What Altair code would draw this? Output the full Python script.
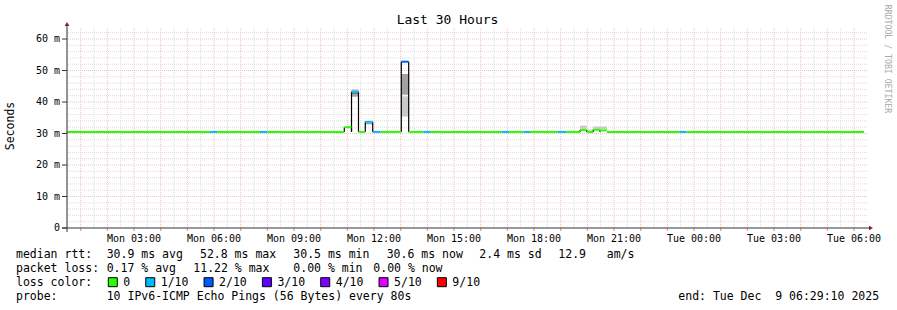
import altair as alt
import pandas as pd

# ---------------- data ----------------
# x = hours counted from Mon 00:00; window Mon 00:29:10 -> Tue 06:29:10 (30 h)
T0 = 29 / 60 + 10 / 3600
T1 = T0 + 30

# median rtt segments (hour start / end, median ms, loss class)
seg_start = [0.486, 5.849, 6.122, 7.724, 7.997, 10.885, 11.155, 11.417, 11.672, 11.950,
             12.250, 13.022, 13.300, 13.847, 14.099, 16.787, 17.061, 17.597, 17.849, 18.887,
             19.199, 19.724, 19.975, 20.222, 20.474, 20.736, 23.447, 23.725]
seg_end = [5.849, 6.122, 7.724, 7.997, 10.885, 11.155, 11.417, 11.672, 11.950, 12.250,
           13.022, 13.300, 13.847, 14.099, 16.787, 17.061, 17.597, 17.849, 18.887, 19.199,
           19.724, 19.975, 20.222, 20.474, 20.736, 23.447, 23.725, 30.374]
seg_median = [30.5, 30.5, 30.5, 30.5, 30.5, 32.0, 43.3, 30.5, 33.7, 30.5,
              30.5, 52.8, 30.5, 30.5, 30.5, 30.5, 30.5, 30.5, 30.5, 30.5,
              30.5, 31.1, 30.5, 31.2, 31.0, 30.5, 30.5, 30.5]
seg_loss = ["0", "1/10", "0", "1/10", "0", "0", "1/10", "0", "1/10", "1/10",
            "0", "2/10", "0", "1/10", "0", "1/10", "0", "1/10", "0", "1/10",
            "0", "0", "0", "0", "0", "0", "1/10", "0"]
BASELINE = 30.5

# smoke bands
smoke_start = [11.155, 11.155, 11.155, 11.672, 13.022, 13.022, 19.724, 19.975, 20.222, 20.474]
smoke_end = [11.417, 11.417, 11.417, 11.950, 13.300, 13.300, 19.975, 20.222, 20.474, 20.736]
smoke_lo = [43.0, 42.5, 41.7, 32.9, 42.3, 35.4, 31.4, 30.9, 31.5, 31.4]
smoke_hi = [44.1, 43.0, 42.5, 33.4, 48.9, 41.8, 32.5, 31.3, 32.2, 32.2]
smoke_level = ["light", "dark", "mid", "mid", "mid", "light", "light", "light", "light", "light"]

loss_labels = ["0", "1/10", "2/10", "3/10", "4/10", "5/10", "9/10"]
loss_colors = ["#26ff00", "#00b8ff", "#0059ff", "#5e00ff", "#7e00ff", "#dd00ff", "#ff0000"]

stats_line1 = ["median rtt:", "30.9 ms avg", "52.8 ms max", "30.5 ms min", "30.6 ms now",
               "2.4 ms sd", "12.9\u00a0\u00a0\u00a0am/s"]
stats_line2 = ["packet loss:", "0.17 % avg", "11.22 % max", "0.00 % min", "0.00 % now"]
probe_line = ["probe:", "10 IPv6-ICMP Echo Pings (56 Bytes) every 80s",
              "end: Tue Dec \u00a09 06:29:10 2025"]

x_label_hours = [3, 6, 9, 12, 15, 18, 21, 24, 27, 30]
x_label_text = ["Mon 03:00", "Mon 06:00", "Mon 09:00", "Mon 12:00", "Mon 15:00",
                "Mon 18:00", "Mon 21:00", "Tue 00:00", "Tue 03:00", "Tue 06:00"]
y_label_values = [0, 10, 20, 30, 40, 50, 60]
y_label_text = ["0", "10 m", "20 m", "30 m", "40 m", "50 m", "60 m"]

# ---------------- layout ----------------
W, H = 800, 200
PAD_L, PAD_T = 67, 28
YMAX = 63.5
FONT = "DejaVu Sans Mono"
CW = 6.955  # char advance of legend font

xs = alt.Scale(domain=[T0, T1], nice=False, zero=False)
ys = alt.Scale(domain=[0, YMAX], nice=False, zero=False)

hour_lines = list(range(1, 31))
minor_x = [h + 0.5 for h in range(0, 30) if T0 <= h + 0.5 <= T1]
minor_y = [v for v in range(2, 64, 2) if v % 10 != 0]
major_y = [10, 20, 30, 40, 50, 60]

MINOR_C = "#dcdcdc"
MAJOR_C = "#f3c0c0"

grid_minor_v = alt.Chart(pd.DataFrame({"h": minor_x})).mark_rule(
    color=MINOR_C, strokeDash=[1, 1], strokeWidth=1).encode(
    x=alt.X("h:Q", scale=xs, axis=None))
grid_minor_h = alt.Chart(pd.DataFrame({"v": minor_y})).mark_rule(
    color=MINOR_C, strokeDash=[1, 1], strokeWidth=1).encode(
    y=alt.Y("v:Q", scale=ys, axis=None))
grid_major_v = alt.Chart(pd.DataFrame({"h": hour_lines})).mark_rule(
    color=MAJOR_C, strokeDash=[1, 1], strokeWidth=1).encode(
    x=alt.X("h:Q", scale=xs, axis=None))
grid_major_h = alt.Chart(pd.DataFrame({"v": major_y})).mark_rule(
    color=MAJOR_C, strokeDash=[1, 1], strokeWidth=1).encode(
    y=alt.Y("v:Q", scale=ys, axis=None))

# ticks
x_ticks = alt.Chart(pd.DataFrame({"h": hour_lines})).mark_rule(
    color="#e08a8a", strokeWidth=1).encode(
    x=alt.X("h:Q", scale=xs, axis=None), y=alt.value(H), y2=alt.value(H + 3))
y_ticks = alt.Chart(pd.DataFrame({"v": y_label_values})).mark_rule(
    color="#333333", strokeWidth=1).encode(
    y=alt.Y("v:Q", scale=ys, axis=None), x=alt.value(-5), x2=alt.value(0))

x_labels = alt.Chart(pd.DataFrame({"h": x_label_hours, "t": x_label_text})).mark_text(
    font=FONT, fontSize=10, align="center", baseline="alphabetic", color="black").encode(
    x=alt.X("h:Q", scale=xs, axis=None), y=alt.value(241.5 - PAD_T), text="t:N")
y_labels = alt.Chart(pd.DataFrame({"v": y_label_values, "t": y_label_text})).mark_text(
    font=FONT, fontSize=10, align="right", baseline="middle", color="black").encode(
    y=alt.Y("v:Q", scale=ys, axis=None), x=alt.value(-7), text="t:N")

smoke_df = pd.DataFrame({"s": smoke_start, "e": smoke_end, "lo": smoke_lo,
                         "hi": smoke_hi, "lvl": smoke_level})
smoke = alt.Chart(smoke_df).mark_rect().encode(
    x=alt.X("s:Q", scale=xs, axis=None), x2="e:Q",
    y=alt.Y("lo:Q", scale=ys, axis=None), y2="hi:Q",
    color=alt.Color("lvl:N", scale=alt.Scale(domain=["dark", "mid", "light"],
                                             range=["#6e6e6e", "#a2a2a2", "#cacaca"]),
                    legend=None))

seg_df = pd.DataFrame({"s": seg_start, "e": seg_end, "m": seg_median, "loss": seg_loss})

# black edges of the raised segments
edge_rows = []
for s, e, m in zip(seg_start, seg_end, seg_median):
    if m - BASELINE >= 0.6:
        edge_rows.append({"h": s, "lo": BASELINE, "hi": m})
        edge_rows.append({"h": e, "lo": BASELINE, "hi": m})
edges = alt.Chart(pd.DataFrame(edge_rows)).mark_rule(color="black", strokeWidth=1.2).encode(
    x=alt.X("h:Q", scale=xs, axis=None),
    y=alt.Y("lo:Q", scale=ys, axis=None), y2="hi:Q")

median = alt.Chart(seg_df).mark_rule(strokeWidth=2).encode(
    x=alt.X("s:Q", scale=xs, axis=None), x2="e:Q",
    y=alt.Y("m:Q", scale=ys, axis=None),
    color=alt.Color("loss:N", scale=alt.Scale(domain=loss_labels, range=loss_colors),
                    legend=None))

axis_x = alt.Chart().mark_rule(color="#333333", strokeWidth=1).encode(
    x=alt.value(-5), x2=alt.value(W + 3), y=alt.value(H))
axis_y = alt.Chart().mark_rule(color="#333333", strokeWidth=1).encode(
    x=alt.value(0), y=alt.value(H + 4), y2=alt.value(-3))
arrow_r = alt.Chart().mark_point(shape="triangle-right", filled=True, color="#8b1c1c",
                                 size=22, opacity=1).encode(
    x=alt.value(W + 4), y=alt.value(H))
arrow_u = alt.Chart().mark_point(shape="triangle-up", filled=True, color="#8b1c1c",
                                 size=22, opacity=1).encode(
    x=alt.value(0), y=alt.value(-4))

# ---------------- text ----------------
title = alt.Chart().mark_text(font=FONT, fontSize=13, align="center", baseline="alphabetic",
                              color="black").encode(
    x=alt.value(447.5 - PAD_L), y=alt.value(24 - PAD_T), text=alt.value("Last 30 Hours"))
ylab = alt.Chart().mark_text(font=FONT, fontSize=11.5, align="center", baseline="middle",
                             angle=270, color="black").encode(
    x=alt.value(11 - PAD_L), y=alt.value(126 - PAD_T), text=alt.value("Seconds"))
water = alt.Chart().mark_text(font=FONT, fontSize=8.2, align="center", baseline="middle",
                              angle=90, color="#aaaaaa").encode(
    x=alt.value(886.5 - PAD_L), y=alt.value(59 - PAD_T),
    text=alt.value("RRDTOOL / TOBI OETIKER"))

rows = []
line1_x = [16, 106.7, 200, 293.3, 386.7, 479.3, 558.3]
line2_x = [16, 106.7, 193.3, 293.3, 373.3]
line4_x = [16, 106.7, 678.3]
base_y = [258.3, 272.3, 286.3, 300.3]
for t, x in zip(stats_line1, line1_x):
    rows.append({"txt": t, "px": x - PAD_L, "py": base_y[0] - PAD_T})
for t, x in zip(stats_line2, line2_x):
    rows.append({"txt": t, "px": x - PAD_L, "py": base_y[1] - PAD_T})
rows.append({"txt": "loss color:", "px": 16 - PAD_L, "py": base_y[2] - PAD_T})
for t, x in zip(probe_line, line4_x):
    rows.append({"txt": t, "px": x - PAD_L, "py": base_y[3] - PAD_T})

# swatches of the loss legend
sw_rows = []
bx = 108.3
for lab, col in zip(loss_labels, loss_colors):
    sw_rows.append({"x0": bx - PAD_L, "x1": bx + 9 - PAD_L,
                    "y0": 277.7 - PAD_T, "y1": 286.7 - PAD_T, "c": col})
    rows.append({"txt": lab, "px": bx + 15 - PAD_L, "py": base_y[2] - PAD_T})
    bx = bx + 15 + len(lab) * CW + 15.5

texts = alt.Chart(pd.DataFrame(rows)).mark_text(
    font=FONT, fontSize=11.5, align="left", baseline="alphabetic", color="black").encode(
    x=alt.X("px:Q", scale=None, axis=None), y=alt.Y("py:Q", scale=None, axis=None),
    text="txt:N")
swatches = alt.Chart(pd.DataFrame(sw_rows)).mark_rect(stroke="black", strokeWidth=1).encode(
    x=alt.X("x0:Q", scale=None, axis=None), x2="x1:Q",
    y=alt.Y("y0:Q", scale=None, axis=None), y2="y1:Q",
    fill=alt.Fill("c:N", scale=None))

chart = alt.layer(
    grid_minor_v, grid_minor_h, grid_major_v, grid_major_h,
    smoke, edges, median, x_ticks, y_ticks, axis_x, axis_y, arrow_r, arrow_u,
    x_labels, y_labels, title, ylab, water, texts, swatches
).resolve_scale(color="independent").properties(
    width=W, height=H,
    padding={"left": PAD_L, "top": PAD_T, "right": 897 - PAD_L - W, "bottom": 310 - PAD_T - H},
    autosize=alt.AutoSizeParams(type="none"),
    background="white",
).configure_view(stroke=None)

chart.save("out.html", embed_options={"renderer": "svg", "actions": False})
